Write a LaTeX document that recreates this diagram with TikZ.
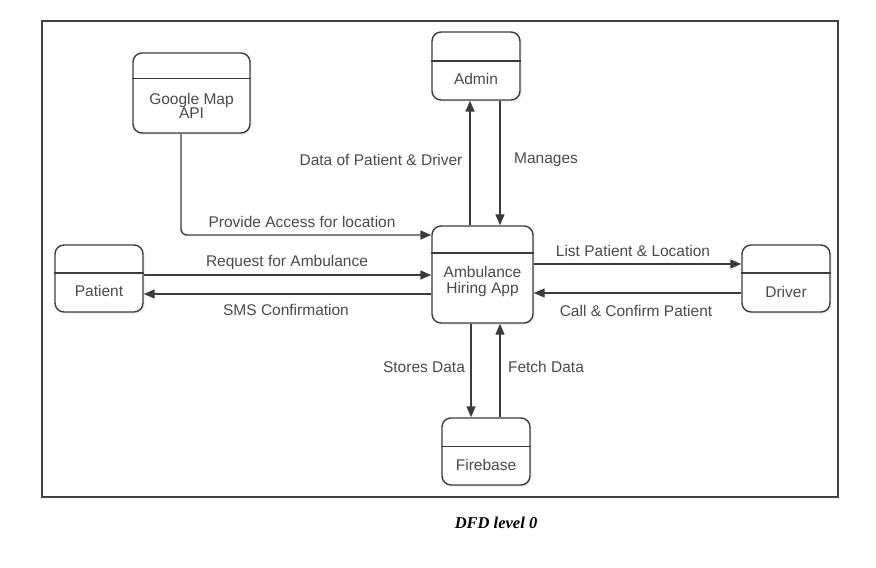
\documentclass[tikz,border=0pt]{standalone}
\usepackage{fontspec}
\setmainfont{Liberation Sans}
\newfontfamily\capfont{Liberation Serif}
\usetikzlibrary{arrows.meta,calc,shadows}
\definecolor{txt}{HTML}{4A4A4A}
\definecolor{lnc}{HTML}{3C3C3C}
\begin{document}
\begin{tikzpicture}[x=1bp,y=-1bp,
  ebox/.style={draw=lnc, line width=1.4bp, rounded corners=9bp, fill=white,
    drop shadow={shadow xshift=2bp,shadow yshift=-2bp,opacity=0.12}, inner sep=0pt},
  divl/.style={draw=lnc, line width=1.3bp},
  lbl/.style={text=txt, font=\fontsize{15.5bp}{14bp}\selectfont, inner sep=0pt, align=center},
  flow/.style={draw=lnc, line width=1.4bp, -{Triangle[length=11bp,width=9bp]}},
  frame/.style={draw=black!75, line width=1.6bp}]
\useasboundingbox (0,0) rectangle (876,568);
\draw[frame] (42,21) rectangle (838,497);

% boxes
\node[ebox, minimum width=117bp, minimum height=80bp] (g) at (191.5,93) {};
\node[ebox, minimum width=88bp, minimum height=68bp] (adm) at (476,66) {};
\node[ebox, minimum width=101bp, minimum height=97bp] (app) at (482.5,274.5) {};
\node[ebox, minimum width=88bp, minimum height=67bp] (pat) at (99,278.5) {};
\node[ebox, minimum width=88bp, minimum height=67bp] (drv) at (786,278.5) {};
\node[ebox, minimum width=88bp, minimum height=67bp] (fb) at (486,451.5) {};

% dividers
\draw[divl] ($(g.north west)!0.325!(g.south west)$) -- ($(g.north east)!0.325!(g.south east)$);
\draw[divl] ($(adm.north west)!0.43!(adm.south west)$) -- ($(adm.north east)!0.43!(adm.south east)$);
\draw[divl] ($(app.north west)!0.28!(app.south west)$) -- ($(app.north east)!0.28!(app.south east)$);
\draw[divl] ($(pat.north west)!0.42!(pat.south west)$) -- ($(pat.north east)!0.42!(pat.south east)$);
\draw[divl] ($(drv.north west)!0.42!(drv.south west)$) -- ($(drv.north east)!0.42!(drv.south east)$);
\draw[divl] ($(fb.north west)!0.43!(fb.south west)$) -- ($(fb.north east)!0.43!(fb.south east)$);

% box texts
\node[lbl] (gt) at (191.5,106) {Google Map\\API};
\node[lbl] (admt) at (476,79) {Admin};
\node[lbl, font=\fontsize{15.5bp}{16bp}\selectfont] (appt) at (482.5,281) {Ambulance\\Hiring App};
\node[lbl] (patt) at (99,291) {Patient};
\node[lbl] (drvt) at (786,292) {Driver};
\node[lbl] (fbt) at (486,465) {Firebase};

% helper coordinates
\coordinate (gx) at (181,0);
\coordinate (ya) at (0,235);
\coordinate (yr) at (0,275);
\coordinate (ys) at (0,294);
\coordinate (yl) at (0,264);
\coordinate (yc) at (0,293);
\coordinate (xa) at (470,0);
\coordinate (xb) at (500,0);
\coordinate (xs) at (471,0);
\coordinate (xf) at (500,0);

% connectors
\draw[flow, rounded corners=6bp] (g.south -| gx) |- (app.west |- ya);
\draw[flow] (pat.east |- yr) -- (app.west |- yr);
\draw[flow] (app.west |- ys) -- (pat.east |- ys);
\draw[flow] (app.north -| xa) -- (adm.south -| xa);
\draw[flow] (adm.south -| xb) -- (app.north -| xb);
\draw[flow] (app.east |- yl) -- (drv.west |- yl);
\draw[flow] (drv.west |- yc) -- (app.east |- yc);
\draw[flow] (app.south -| xs) -- (fb.north -| xs);
\draw[flow] (fb.north -| xf) -- (app.south -| xf);

% connector labels
\node[lbl] (l1) at (302,222) {Provide Access for location};
\node[lbl] (l2) at (287,262) {Request for Ambulance};
\node[lbl] (l3) at (286,310) {SMS Confirmation};
\node[lbl] (l4) at (381,160) {Data of Patient \& Driver};
\node[lbl] (l5) at (546,160) {Manages};
\node[lbl] (l6) at (633,251) {List Patient \& Location};
\node[lbl] (l7) at (636,311) {Call \& Confirm Patient};
\node[lbl] (l8) at (424,367) {Stores Data};
\node[lbl] (l9) at (546,367) {Fetch Data};

% caption
\node[inner sep=0pt, font=\capfont\bfseries\itshape\fontsize{16.5bp}{18bp}\selectfont] (cap) at (496,523) {DFD level 0};
\end{tikzpicture}
\end{document}
